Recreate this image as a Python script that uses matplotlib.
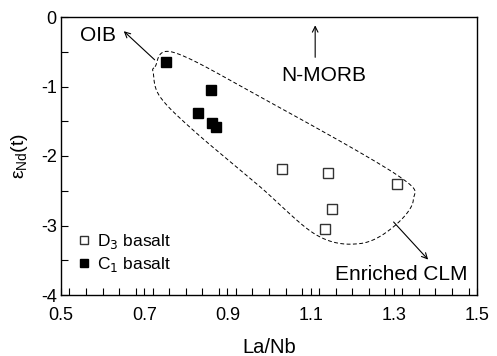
import numpy as np
import matplotlib
matplotlib.use("Agg")
import matplotlib.pyplot as plt
from matplotlib.ticker import MultipleLocator

plt.rcParams['font.family'] = ['Liberation Sans', 'DejaVu Sans']

# Data
d3_lanb = [1.031, 1.143, 1.307, 1.151, 1.135]
d3_end = [-2.18, -2.245, -2.40, -2.76, -3.05]
c1_lanb = [0.752, 0.861, 0.830, 0.864, 0.872]
c1_end = [-0.652, -1.046, -1.377, -1.53, -1.58]

# dashed field outline (guide points)
field_x = [0.726, 0.770, 0.978, 1.307, 1.347, 1.299, 1.219, 1.115, 0.978, 0.818, 0.738, 0.722]
field_y = [-0.715, -0.508, -1.147, -2.27, -2.63, -3.02, -3.26, -3.14, -2.44, -1.63, -1.147, -0.81]


def catmull_rom_closed(xs, ys, n=30):
    P = np.column_stack([xs, ys])
    m = len(P)
    out = []
    for i in range(m):
        p0, p1, p2, p3 = P[(i - 1) % m], P[i], P[(i + 1) % m], P[(i + 2) % m]
        t = np.linspace(0, 1, n, endpoint=False)[:, None]
        pts = 0.5 * ((2 * p1) + (-p0 + p2) * t + (2 * p0 - 5 * p1 + 4 * p2 - p3) * t ** 2
                     + (-p0 + 3 * p1 - 3 * p2 + p3) * t ** 3)
        out.append(pts)
    out = np.vstack(out)
    out = np.vstack([out, out[:1]])
    return out[:, 0], out[:, 1]


fig = plt.figure(figsize=(4.97, 3.56), dpi=100)
ax = fig.add_axes([61 / 497, 1 - 295 / 356, 416 / 497, 278 / 356])

cx, cy = catmull_rom_closed(field_x, field_y)
ax.plot(cx, cy, ls=(0, (4, 2.5)), color='black', lw=0.7)

ax.plot(d3_lanb, d3_end, ls='none', marker='s', ms=7.5, mfc='white', mec='#333333', mew=1.0,
        label='D$_3$ basalt')
ax.plot(c1_lanb, c1_end, ls='none', marker='s', ms=7.5, mfc='black', mec='black',
        label='C$_1$ basalt')

ax.set_xlim(0.5, 1.5)
ax.set_ylim(-4, 0)
ax.xaxis.set_minor_locator(MultipleLocator(0.04))
ax.yaxis.set_minor_locator(MultipleLocator(0.5))
ax.tick_params(which='both', direction='in', top=False, right=False, labelsize=13)
ax.tick_params(which='major', length=5, width=0.8)
ax.tick_params(which='minor', length=5, width=0.8)
ax.tick_params(axis='x', which='major', pad=9)
ax.tick_params(axis='y', which='major', pad=3)
ax.set_xticks([0.5, 0.7, 0.9, 1.1, 1.3, 1.5])
ax.set_xticklabels(['0.5', '0.7', '0.9', '1.1', '1.3', '1.5'])
ax.set_yticks([0, -1, -2, -3, -4])
ax.set_yticklabels(['0', '-1', '-2', '-3', '-4'])
for s in ax.spines.values():
    s.set_linewidth(1.0)

ax.set_xlabel('La/Nb', fontsize=14.5, labelpad=10)
ax.set_ylabel(r'$\mathregular{\varepsilon_{Nd}}$(t)', fontsize=14, labelpad=8)

arrow = dict(arrowstyle='->', color='black', lw=0.8)
ax.annotate('', xy=(0.646, -0.177), xytext=(0.730, -0.643), arrowprops=arrow)
ax.text(0.546, -0.26, 'OIB', fontsize=15, ha='left', va='center')
ax.annotate('', xy=(1.111, -0.08), xytext=(1.111, -0.62), arrowprops=arrow)
ax.text(1.132, -0.835, 'N-MORB', fontsize=15, ha='center', va='center')
ax.annotate('', xy=(1.387, -3.52), xytext=(1.295, -2.92), arrowprops=arrow)
ax.text(1.476, -3.70, 'Enriched CLM', fontsize=15, ha='right', va='center')

ax.legend(loc='lower left', bbox_to_anchor=(0.035, 0.075), frameon=False, fontsize=12.5,
          markerscale=0.8, handletextpad=0.25, handlelength=1.0, labelspacing=0.25,
          borderaxespad=0, borderpad=0)

fig.savefig('out.png', dpi=100)
